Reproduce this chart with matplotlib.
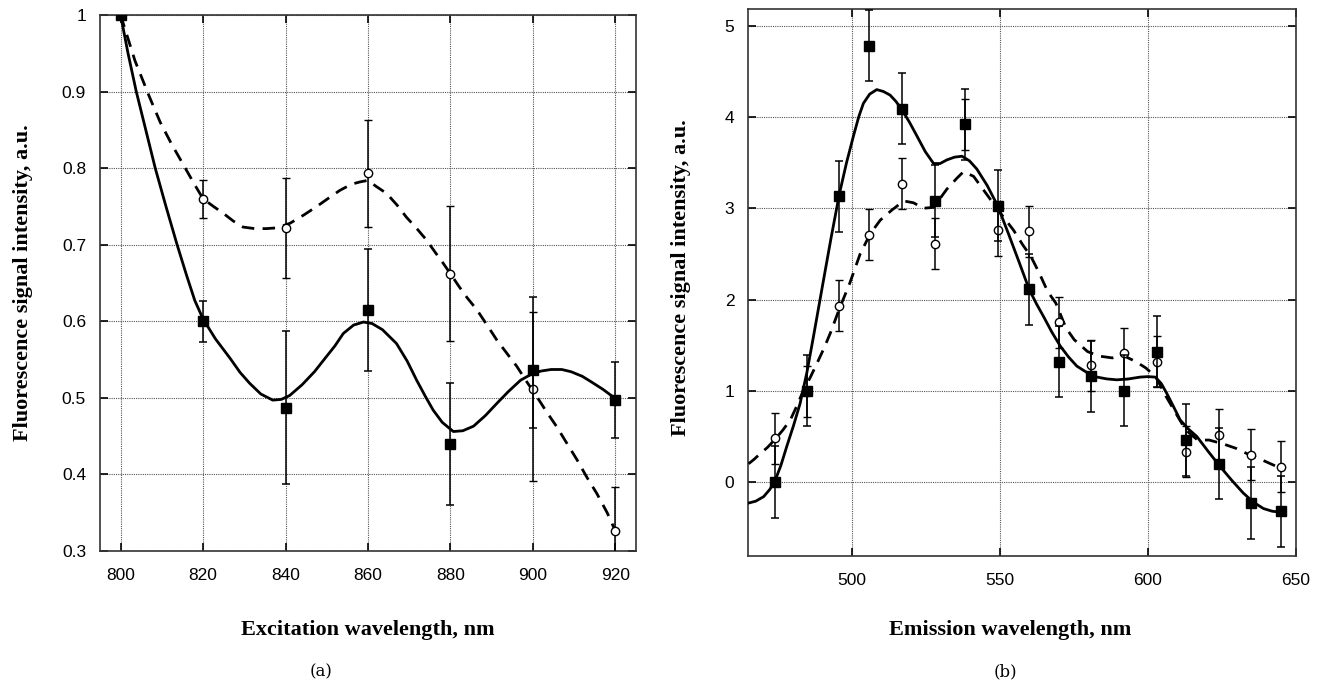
import numpy as np
import matplotlib.pyplot as plt

# ---------------- data: (a) excitation ----------------
exc_x = [800, 820, 840, 860, 880, 900, 920]
exc_sq = [1.0, 0.600, 0.487, 0.615, 0.440, 0.536, 0.497]
exc_sq_lo = [0.0, 0.027, 0.100, 0.080, 0.080, 0.075, 0.050]
exc_sq_hi = [0.0, 0.027, 0.100, 0.080, 0.080, 0.096, 0.050]
exc_ci = [1.0, 0.760, 0.722, 0.793, 0.662, 0.512, 0.326]
exc_ci_lo = [0.0, 0.025, 0.065, 0.070, 0.088, 0.120, 0.057]
exc_ci_hi = [0.0, 0.025, 0.065, 0.070, 0.088, 0.100, 0.057]

# fitted curves
exc_fit_sq_x = [800, 801.8, 803.8, 806.1, 808.4, 811.0, 813.7, 816.0, 818.0, 820, 823, 826.5,
                829, 831.3, 834, 836.9, 839, 841, 844, 847, 849.2, 852, 854, 856.5, 858.9,
                861, 863.5, 866.9, 869.5, 871.8, 874, 875.8, 878, 880.7, 883, 885.6, 888.5,
                891.3, 894, 897, 900, 902, 904.4, 907, 909.3, 912, 914.1, 917, 920]
exc_fit_sq_y = [1.0, 0.95, 0.90, 0.85, 0.80, 0.75, 0.70, 0.66, 0.627, 0.603, 0.577, 0.552,
                0.533, 0.519, 0.505, 0.497, 0.498, 0.503, 0.517, 0.534, 0.549, 0.568, 0.584,
                0.595, 0.599, 0.597, 0.589, 0.571, 0.548, 0.523, 0.501, 0.484, 0.468, 0.456,
                0.457, 0.463, 0.477, 0.493, 0.508, 0.523, 0.532, 0.535, 0.537, 0.537, 0.534,
                0.528, 0.521, 0.511, 0.499]
exc_fit_ci_x = [800, 803.5, 807, 809.6, 812.3, 816, 818, 820, 822.5, 824.9, 827.3, 829.7,
                832.5, 835.4, 838, 841.1, 844.5, 847.6, 850.5, 853.2, 856, 858.1, 860, 862,
                864.5, 867, 869.3, 872, 874.2, 876.3, 878.2, 880, 882, 884, 886.4, 889,
                891.3, 893.7, 896.1, 898.5, 901, 903.4, 905.8, 908.3, 910.7, 913, 915.5,
                918, 920]
exc_fit_ci_y = [1.0, 0.94, 0.893, 0.86, 0.832, 0.797, 0.778, 0.760, 0.750, 0.741, 0.731,
                0.723, 0.721, 0.721, 0.722, 0.728, 0.739, 0.750, 0.761, 0.771, 0.779, 0.782,
                0.784, 0.776, 0.767, 0.752, 0.736, 0.720, 0.706, 0.690, 0.676, 0.662, 0.646,
                0.631, 0.615, 0.594, 0.575, 0.558, 0.541, 0.521, 0.501, 0.481, 0.462, 0.440,
                0.419, 0.397, 0.375, 0.350, 0.326]

# ---------------- data: (b) emission ----------------
em_x = [474.1, 484.8, 495.8, 505.9, 516.9, 528.2, 538.1, 549.2, 560.0, 570.1, 580.9,
        592.0, 603.1, 613.0, 624.0, 634.8, 644.9]
em_sq = [0.0, 1.0, 3.13, 4.78, 4.09, 3.08, 3.92, 3.03, 2.11, 1.32, 1.16, 1.0, 1.43,
         0.46, 0.20, -0.23, -0.32]
em_ci = [0.48, 0.99, 1.93, 2.71, 3.27, 2.61, 3.92, 2.76, 2.75, 1.75, 1.28, 1.41, 1.32,
         0.33, 0.52, 0.30, 0.17]
em_sq_err = 0.39
em_ci_err = 0.28

em_fit_sq_x = [465.1, 467.5, 470.2, 472.3, 474.1, 476, 478, 480.3, 482.5, 484.8, 487, 488.7,
               490.4, 493, 495.8, 498.2, 500.6, 502.3, 503.9, 506, 508.4, 510.6, 512.9,
               514.9, 516.9, 519.5, 522.0, 524.8, 527.6, 529.8, 532.1, 534.7, 537.2, 539.7,
               542.2, 545.7, 549.2, 552.9, 556.6, 559.9, 562.4, 564.8, 567.6, 570.4, 573.2,
               576.0, 579.4, 582.8, 586.1, 589.5, 593.5, 597.4, 600, 602.5, 604.5, 606.4,
               608.6, 610.9, 613.7, 616.5, 620.5, 624.4, 628.3, 632.2, 635.6, 639.0, 642,
               644.9]
em_fit_sq_y = [-0.23, -0.21, -0.16, -0.08, 0.02, 0.18, 0.39, 0.62, 0.86, 1.20, 1.59, 1.90,
               2.21, 2.68, 3.16, 3.50, 3.80, 4.00, 4.15, 4.25, 4.30, 4.28, 4.24,
               4.17, 4.08, 3.94, 3.79, 3.62, 3.49, 3.49, 3.53, 3.56, 3.57, 3.52,
               3.43, 3.25, 3.03, 2.72, 2.40, 2.11, 1.95, 1.81, 1.64, 1.49, 1.37,
               1.27, 1.20, 1.15, 1.13, 1.12, 1.13, 1.15, 1.155, 1.15, 1.08, 0.97,
               0.83, 0.68, 0.58, 0.50, 0.33, 0.17, 0.02, -0.12, -0.22, -0.29, -0.32,
               -0.33]
em_fit_ci_x = [465.1, 467, 469, 471.5, 474.1, 476.7, 479.2, 481.5, 483.7, 486, 488.2, 490.5,
               492.7, 495.8, 499.3, 502.8, 506.2, 509.6, 513.5, 517.5, 520.8, 524.2, 527.6,
               532.1, 535.5, 537.7, 541.1, 545.6, 550.1, 554.6, 557.7, 560.5, 563.3, 566.1,
               568.9, 572.3, 575.1, 579.6, 583.5, 588.0, 591.4, 595.9, 599.3, 602.7, 606.1,
               609.5, 612.8, 616.8, 620.7, 625.2, 629.7, 634.2, 638.7, 644.9]
em_fit_ci_y = [0.20, 0.25, 0.31, 0.38, 0.47, 0.57, 0.68, 0.84, 1.01, 1.15, 1.30, 1.46,
               1.63, 1.90, 2.18, 2.50, 2.72, 2.87, 2.98, 3.08, 3.06, 3.00, 3.01,
               3.21, 3.33, 3.40, 3.35, 3.15, 2.95, 2.76, 2.60, 2.47, 2.29, 2.09,
               1.96, 1.69, 1.56, 1.43, 1.38, 1.36, 1.39, 1.32, 1.25, 1.15, 0.94,
               0.75, 0.57, 0.46, 0.46, 0.42, 0.37, 0.30, 0.24, 0.15]

exc_yticks = [0.3, 0.4, 0.5, 0.6, 0.7, 0.8, 0.9, 1.0]
exc_yticklabels = ["0.3", "0.4", "0.5", "0.6", "0.7", "0.8", "0.9", "1"]
em_yticks = [0, 1, 2, 3, 4, 5]
em_xticks = [500, 550, 600, 650]

YLABEL = "Fluorescence signal intensity, a.u."
SERIF = "Liberation Serif"
SANS = "Liberation Sans"

fig = plt.figure(figsize=(13.19, 6.83), dpi=100)
ax1 = fig.add_axes([0.0758, 0.1933, 0.4064, 0.7848])
ax2 = fig.add_axes([0.5673, 0.1860, 0.4152, 0.8004])


def style(ax):
    ax.grid(True, linestyle=(0, (1, 1)), color="#555555", linewidth=0.8)
    ax.tick_params(direction="in", length=6, width=1.2, top=True, right=True,
                   labelsize=12.5)
    ax.tick_params(axis="x", pad=12)
    ax.tick_params(axis="y", pad=10)
    for lab in ax.get_xticklabels() + ax.get_yticklabels():
        lab.set_family(SANS)
    for s in ax.spines.values():
        s.set_linewidth(1.2)
        s.set_color("#333333")


def draw(ax, x, sq, sq_err, ci, ci_err, fx1, fy1, fx2, fy2):
    ax.plot(fx2, fy2, color="black", lw=2.0, linestyle=(0, (4.5, 3)), zorder=3)
    ax.plot(fx1, fy1, color="black", lw=2.0, zorder=3)
    ax.errorbar(x, ci, yerr=ci_err, fmt="o", ms=6, mfc="white", mec="black", mew=1.0,
                ecolor="black", elinewidth=1.1, capsize=3, capthick=1.1, zorder=4)
    ax.errorbar(x, sq, yerr=sq_err, fmt="s", ms=6.5, mfc="black", mec="black",
                ecolor="black", elinewidth=1.1, capsize=3, capthick=1.1, zorder=5)


# ---- (a) ----
draw(ax1, exc_x, exc_sq, [exc_sq_lo, exc_sq_hi], exc_ci, [exc_ci_lo, exc_ci_hi],
     exc_fit_sq_x, exc_fit_sq_y, exc_fit_ci_x, exc_fit_ci_y)
ax1.set_xlim(795, 925)
ax1.set_ylim(0.3, 1.0)
ax1.set_xticks(exc_x)
ax1.set_yticks(exc_yticks)
ax1.set_yticklabels(exc_yticklabels)
style(ax1)
ax1.set_xlabel("Excitation wavelength, nm", family=SERIF, fontweight="bold",
               fontsize=16, va="center")
ax1.xaxis.set_label_coords(0.5, -0.147)
ax1.set_ylabel(YLABEL, family=SERIF, fontweight="bold", fontsize=16, va="center")
ax1.yaxis.set_label_coords(-0.1437, 0.5)

# ---- (b) ----
draw(ax2, em_x, em_sq, em_sq_err, em_ci, em_ci_err,
     em_fit_sq_x, em_fit_sq_y, em_fit_ci_x, em_fit_ci_y)
ax2.set_xlim(465, 650)
ax2.set_ylim(-0.81, 5.18)
ax2.set_xticks(em_xticks)
ax2.set_yticks(em_yticks)
style(ax2)
ax2.set_xlabel("Emission wavelength, nm", family=SERIF, fontweight="bold",
               fontsize=16, va="center")
ax2.xaxis.set_label_coords(0.478, -0.135)
ax2.set_ylabel(YLABEL, family=SERIF, fontweight="bold", fontsize=16, va="center")
ax2.yaxis.set_label_coords(-0.123, 0.51)

fig.text(321 / 1319, 1 - 672 / 683, "(a)", family="DejaVu Serif", fontsize=12,
         ha="center", va="center")
fig.text(1005 / 1319, 1 - 672 / 683, "(b)", family="DejaVu Serif", fontsize=12,
         ha="center", va="center")

fig.savefig("out.png", dpi=100)
